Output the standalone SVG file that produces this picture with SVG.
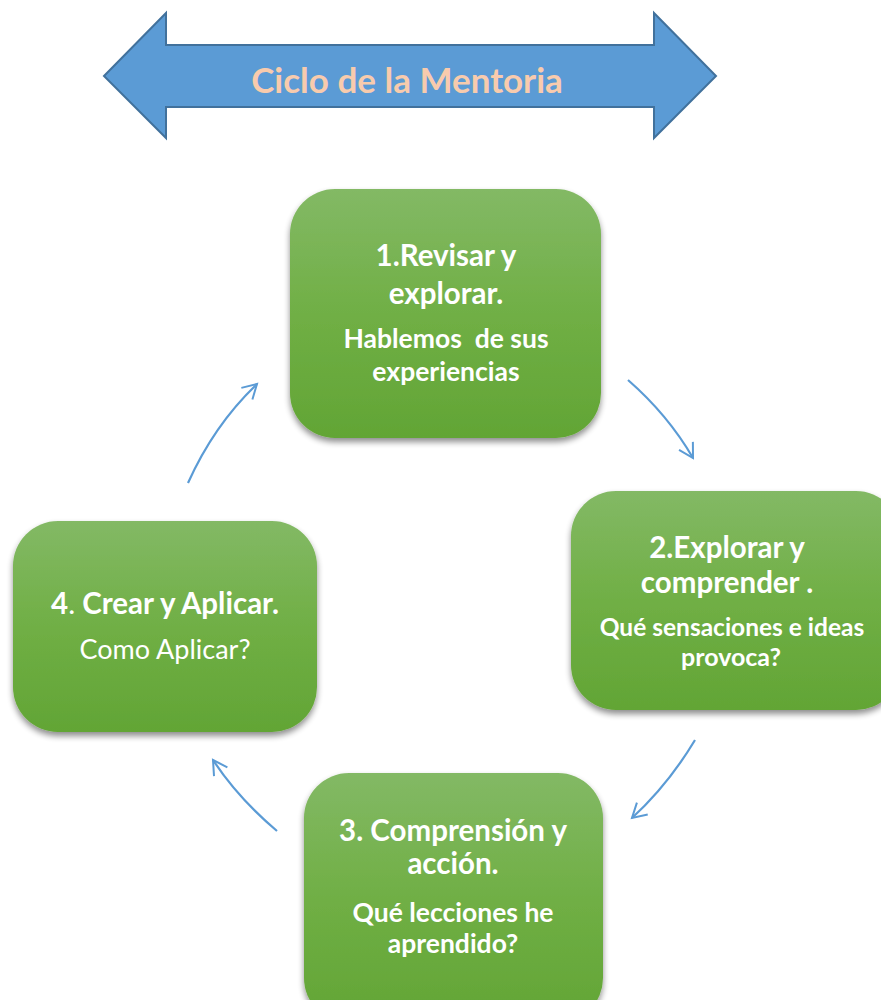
<svg xmlns="http://www.w3.org/2000/svg" width="881" height="1000" viewBox="0 0 881 1000">
<defs>
<linearGradient id="g" x1="0" y1="0" x2="0" y2="1">
<stop offset="0" stop-color="#83b965"/>
<stop offset="0.5" stop-color="#70af45"/>
<stop offset="1" stop-color="#62a535"/>
</linearGradient>
<filter id="sh" x="-10%" y="-10%" width="120%" height="130%">
<feGaussianBlur in="SourceAlpha" stdDeviation="3"/>
<feOffset dx="0" dy="4" result="b"/>
<feComponentTransfer><feFuncA type="linear" slope="0.45"/></feComponentTransfer>
<feMerge><feMergeNode/><feMergeNode in="SourceGraphic"/></feMerge>
</filter>
<marker id="ah" viewBox="0 0 20 20" refX="16" refY="10" markerWidth="20" markerHeight="20" markerUnits="userSpaceOnUse" orient="auto">
<path d="M2,2 L16,10 L2,18" fill="none" stroke="#5b9bd5" stroke-width="2"/>
</marker>
</defs>
<style>
.box{fill:url(#g);filter:url(#sh);}
.t{font-family:Lato,"Open Sans","Liberation Sans",sans-serif;fill:#ffffff;text-anchor:middle;font-weight:bold;}
.h{font-size:29.5px;}
.s{font-size:26.5px;}
.c{fill:none;stroke:#5b9bd5;stroke-width:2.2;marker-end:url(#ah);}
</style>
<g id="title">
<path d="M104,76 L166,13 L166,45 L654,45 L654,13 L716,76 L654,138 L654,107 L166,107 L166,138 Z" fill="#5b9bd5" stroke="#41719c" stroke-width="2"/>
<text x="407" y="93" style="font-family:Lato,'Open Sans','Liberation Sans',sans-serif;font-weight:bold;font-size:35px;fill:#f8cbad;text-anchor:middle">Ciclo de la Mentoria</text>
</g>
<g id="node1">
<rect class="box" x="290" y="189" width="311" height="249" rx="45"/>
<text class="t h" x="446" y="266">1.Revisar y</text>
<text class="t h" x="446" y="304">explorar.</text>
<text class="t s" x="446" y="348" xml:space="preserve">Hablemos  de sus</text>
<text class="t s" x="446" y="381">experiencias</text>
</g>
<g id="node2">
<rect class="box" x="571" y="491" width="330" height="219" rx="45"/>
<text class="t h" x="727" y="558">2.Explorar y</text>
<text class="t h" x="727" y="593">comprender .</text>
<text class="t s" x="732" y="636" style="font-size:24.5px">Qué sensaciones e ideas</text>
<text class="t s" x="731" y="666" style="font-size:25px">provoca?</text>
</g>
<g id="node3">
<rect class="box" x="304" y="773" width="299" height="250" rx="45"/>
<text class="t h" x="453" y="841">3. Comprensión y</text>
<text class="t h" x="453" y="874">acción.</text>
<text class="t s" x="453" y="922">Qué lecciones he</text>
<text class="t s" x="453" y="953">aprendido?</text>
</g>
<g id="node4">
<rect class="box" x="13" y="521" width="304" height="211" rx="45"/>
<text class="t h" x="165" y="614"><tspan>4</tspan><tspan font-weight="normal">.</tspan> Crear y Aplicar.</text>
<text class="t s" x="165" y="659" style="font-weight:normal;font-size:27px">Como Aplicar?</text>
</g>
<g id="connectors">
<path class="c" d="M628,380 Q668,415 693,458"/>
<path class="c" d="M695,740 Q668,785 632,818"/>
<path class="c" d="M277,831 Q238,798 213,760"/>
<path class="c" d="M188,483 Q214,425 257,384"/>
</g>
</svg>
